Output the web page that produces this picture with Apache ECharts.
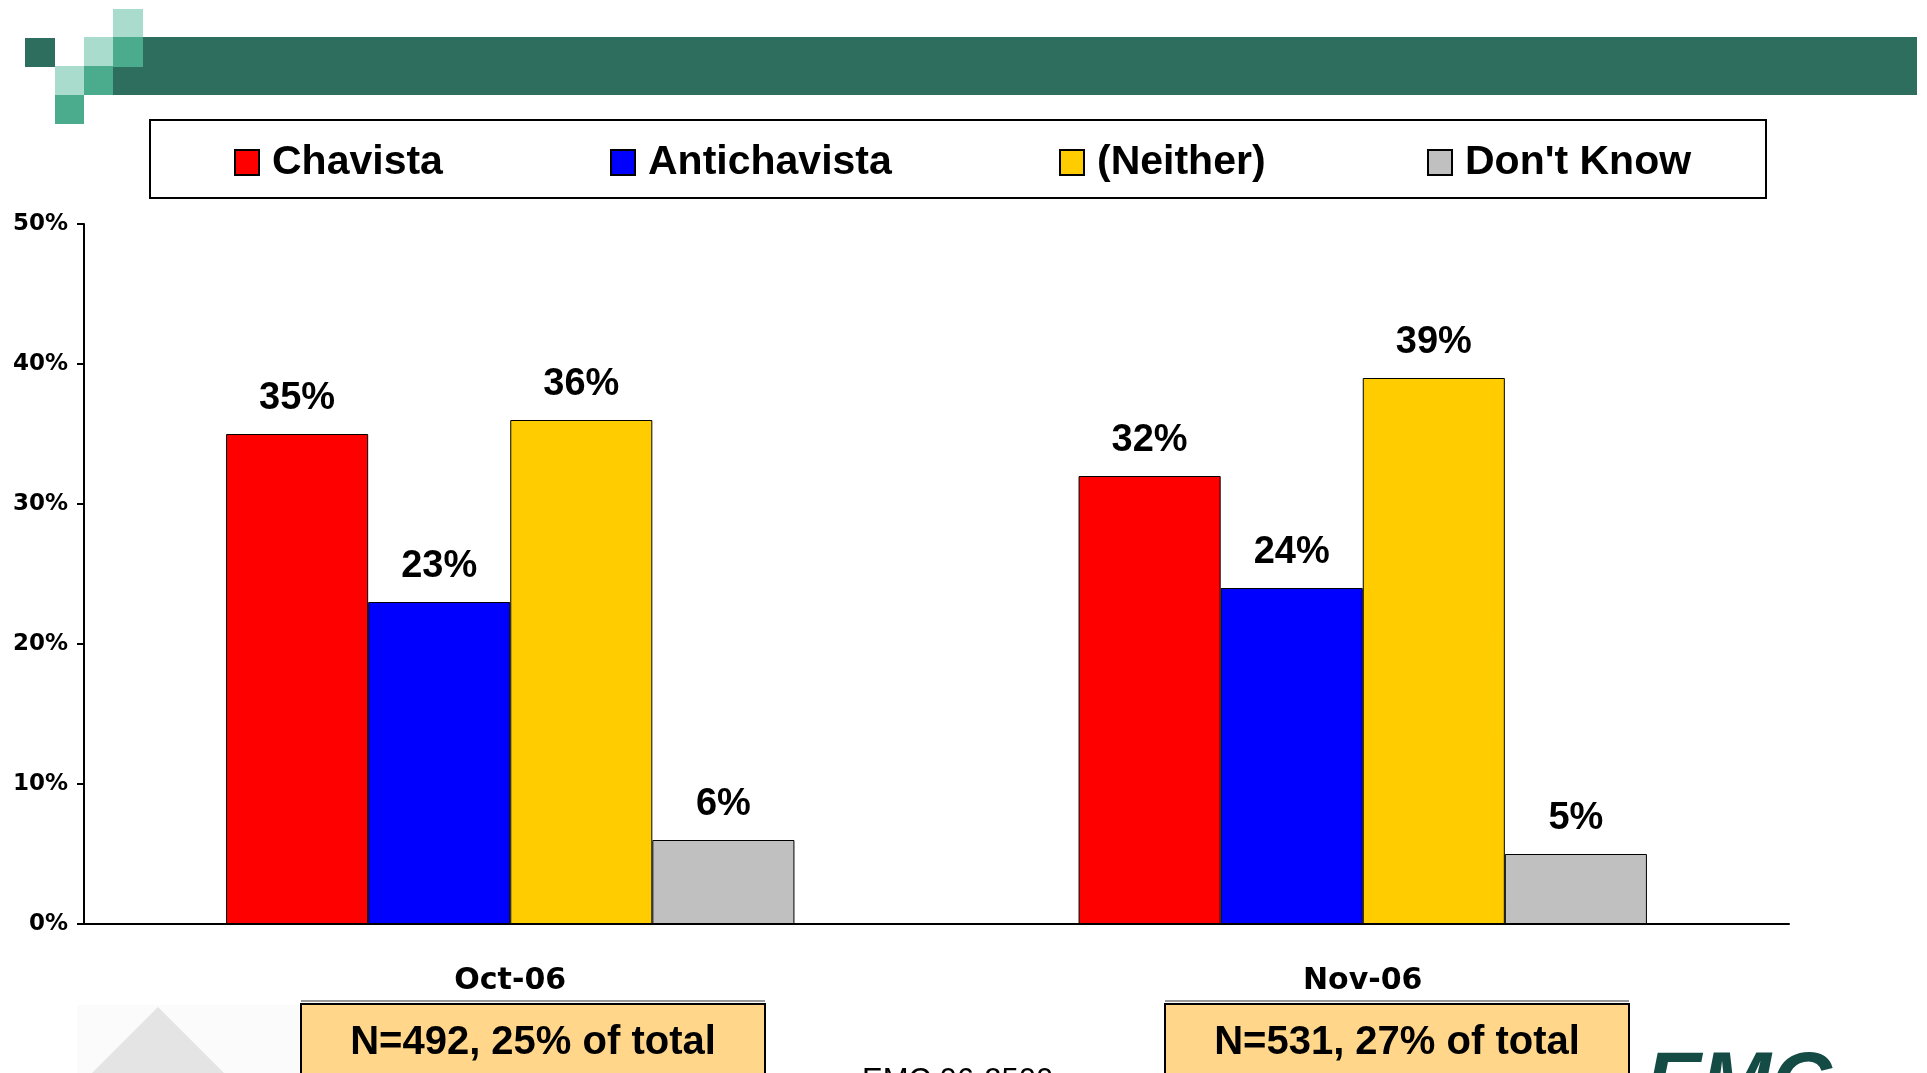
<!DOCTYPE html>
<html>
<head>
<meta charset="utf-8">
<title>Chavista / Antichavista</title>
<script src="https://cdn.jsdelivr.net/npm/echarts@6/dist/echarts.min.js"></script>
<style>
    html, body { margin: 0; padding: 0; background: #fff; }
    #chart { width: 1927px; height: 1073px; }
</style>
</head>
<body>
<div id="chart"></div>
<script>
// 数据
var categories = ['Oct-06', 'Nov-06'];
var seriesNames = ['Chavista', 'Antichavista', '(Neither)', "Don't Know"];
var chavista = [35, 32];
var antichavista = [23, 24];
var neither = [36, 39];
var dontKnow = [6, 5];
var sampleNotes = ['N=492, 25% of total', 'N=531, 27% of total'];
var footerText = 'EMC 06-2500';

document.addEventListener('DOMContentLoaded', function() {
    var chart = echarts.init(document.getElementById('chart'));

    var colors = ['#FF0000', '#0000FF', '#FFCC00', '#C0C0C0'];
    var values = [chavista, antichavista, neither, dontKnow];
    var legendLeft = [234, 610, 1059, 1427];

    var dark = '#2E6E5E', mid = '#4AAB8D', light = '#A9DCCD';

    // 每个图例单独放置
    var legends = seriesNames.map(function(name, i) {
        return {
            data: [name],
            left: legendLeft[i],
            top: 142,
            padding: 0,
            icon: 'rect',
            itemWidth: 24,
            itemHeight: 25,
            selectedMode: false,
            itemStyle: { borderColor: '#000', borderWidth: 2 },
            textStyle: {
                fontFamily: 'Liberation Sans',
                fontWeight: 'bold',
                fontSize: 41,
                color: '#000',
                padding: [0, 0, 0, 8]
            }
        };
    });

    var series = seriesNames.map(function(name, i) {
        return {
            name: name,
            type: 'bar',
            data: values[i],
            barGap: '0%',
            barCategoryGap: '33.33%',
            itemStyle: { color: colors[i], borderColor: '#000', borderWidth: 1 },
            label: {
                show: true,
                position: 'top',
                distance: 16,
                formatter: '{c}%',
                fontFamily: 'Liberation Sans',
                fontWeight: 'bold',
                fontSize: 38,
                color: '#000'
            }
        };
    });

    // 背景装饰：左上角方块、绿色横条、图例框、底部说明框
    var graphic = [
        { type: 'rect', shape: { x: 113, y: 37, width: 1804, height: 58 }, style: { fill: dark } },
        { type: 'rect', shape: { x: 113, y: 37, width: 30, height: 30 }, style: { fill: mid } },
        { type: 'rect', shape: { x: 113, y: 9, width: 30, height: 28 }, style: { fill: light } },
        { type: 'rect', shape: { x: 84, y: 37, width: 29, height: 29 }, style: { fill: light } },
        { type: 'rect', shape: { x: 25, y: 38, width: 30, height: 29 }, style: { fill: dark } },
        { type: 'rect', shape: { x: 55, y: 66, width: 29, height: 29 }, style: { fill: light } },
        { type: 'rect', shape: { x: 84, y: 66, width: 29, height: 29 }, style: { fill: mid } },
        { type: 'rect', shape: { x: 55, y: 95, width: 29, height: 29 }, style: { fill: mid } },
        { type: 'rect', shape: { x: 150, y: 120, width: 1616, height: 78 },
          style: { fill: 'transparent', stroke: '#000', lineWidth: 2 } },
        { type: 'rect', shape: { x: 77, y: 1005, width: 224, height: 70 }, style: { fill: '#FBFBFB' } },
        { type: 'polygon', shape: { points: [[92, 1073], [158, 1007], [224, 1073]] }, style: { fill: '#E4E4E4' } },
        { type: 'text', left: 862, top: 1066,
          style: { text: footerText, fontFamily: 'Liberation Sans', fontSize: 31, fill: '#000' } },
        { type: 'text', left: 1645, top: 1045,
          style: { text: 'EMC', fontFamily: 'Liberation Sans', fontWeight: 'bold', fontStyle: 'italic',
                   fontSize: 84, fill: '#154B45' } }
    ];

    var boxX = [301, 1165];
    sampleNotes.forEach(function(note, i) {
        graphic.push({ type: 'line', shape: { x1: boxX[i], y1: 1001, x2: boxX[i] + 464, y2: 1001 },
                       style: { stroke: '#999', lineWidth: 2 } });
        graphic.push({ type: 'rect', shape: { x: boxX[i], y: 1004, width: 464, height: 90 },
                       style: { fill: '#FFD68A', stroke: '#000', lineWidth: 2 } });
        graphic.push({ type: 'text', x: boxX[i] + 232, y: 1043,
                       style: { text: note, fontFamily: 'Liberation Sans', fontWeight: 'bold', fontSize: 40,
                                fill: '#000', align: 'center', verticalAlign: 'middle' } });
    });

    var option = {
        backgroundColor: '#fff',
        animation: false,
        color: colors,
        legend: legends,
        grid: { left: 84, top: 224, width: 1705, height: 700, containLabel: false },
        xAxis: {
            type: 'category',
            data: categories,
            axisLine: { lineStyle: { color: '#000', width: 2 } },
            axisTick: { length: 13, lineStyle: { color: '#000', width: 2 } },
            axisLabel: {
                margin: 42,
                fontFamily: 'DejaVu Sans',
                fontWeight: 'bold',
                fontSize: 30,
                color: '#000'
            }
        },
        yAxis: {
            type: 'value',
            min: 0,
            max: 50,
            interval: 10,
            axisLine: { show: true, lineStyle: { color: '#000', width: 2 } },
            axisTick: { show: true, length: 7, lineStyle: { color: '#000', width: 2 } },
            splitLine: { show: false },
            axisLabel: {
                formatter: '{value}%',
                margin: 16,
                padding: [4, 0, 0, 0],
                fontFamily: 'DejaVu Sans',
                fontWeight: 'bold',
                fontSize: 23,
                color: '#000'
            }
        },
        series: series,
        graphic: graphic
    };

    chart.setOption(option);
});
</script>
</body>
</html>
